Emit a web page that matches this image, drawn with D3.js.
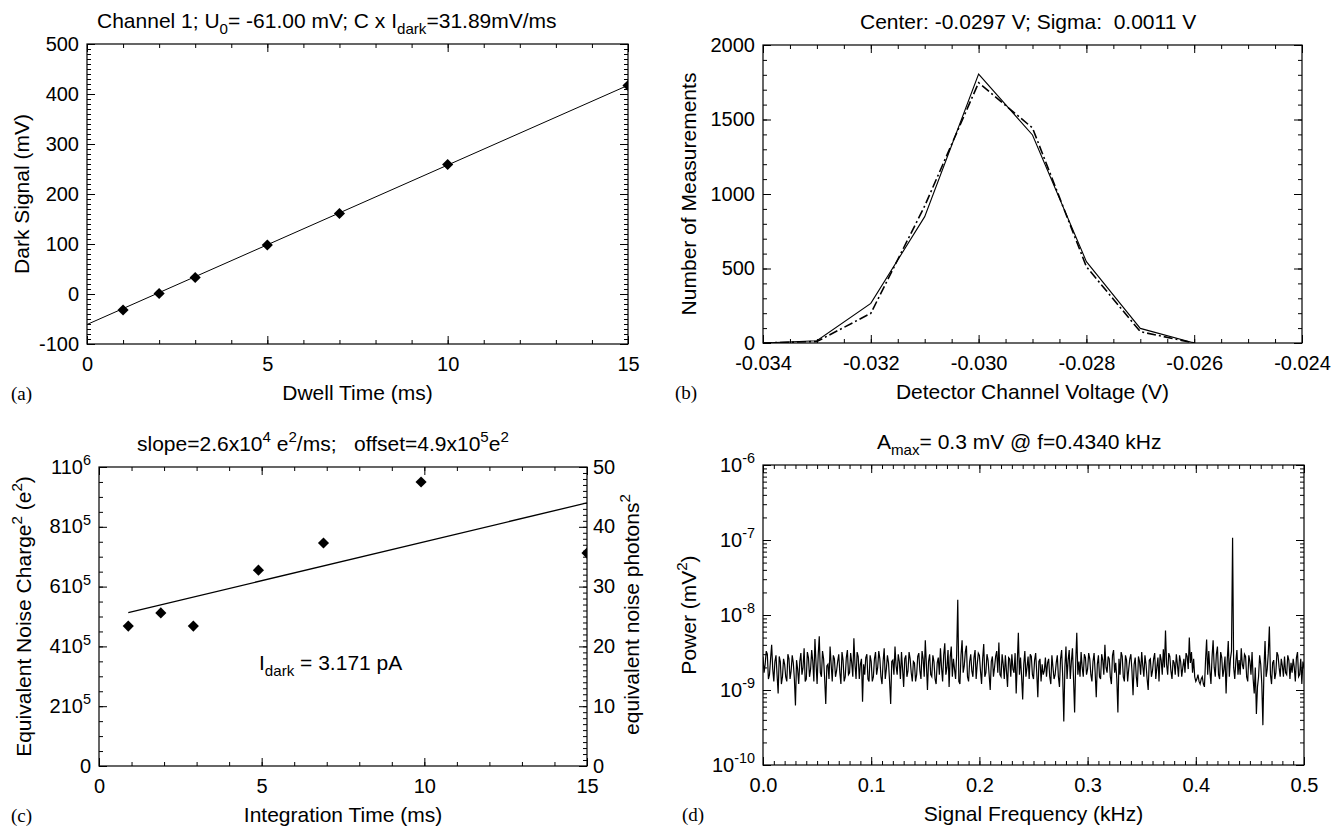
<!DOCTYPE html>
<html><head><meta charset="utf-8">
<script src="https://cdn.jsdelivr.net/npm/d3@7"></script>
<style>
body{margin:0;background:#fff;}
svg{display:block;background:#fff;}
text{font-family:"Liberation Sans",Arial,Helvetica,sans-serif;fill:#000;white-space:pre;}
.plabel{font-family:"Liberation Serif","Times New Roman",serif;}
</style></head><body>
<svg id="fig" width="1336" height="831"></svg>
<script>
// ---------------- DATA ----------------
// (a) dark signal vs dwell time
const dwellTime = [1, 2, 3, 5, 7, 10, 15];
const darkSignal = [-32, 1, 33, 98, 161, 259, 417];
const fitDwell = [0, 15];
const fitDark = [-61.0, 417.35];
const xTicksA = [0, 5, 10, 15];
const yTicksA = [-100, 0, 100, 200, 300, 400, 500];

// (b) histogram of detector channel voltage
const voltage = [-0.034, -0.033, -0.032, -0.031, -0.030, -0.029, -0.028, -0.027, -0.026];
const countsMeasured = [0, 15, 266, 848, 1805, 1396, 546, 98, 0];
const countsFit = [0, 10, 199, 920, 1747, 1443, 512, 76, 0];
const xTicksB = [-0.034, -0.032, -0.030, -0.028, -0.026, -0.024];
const yTicksB = [0, 500, 1000, 1500, 2000];

// (c) equivalent noise charge^2 vs integration time
const integTime = [0.9, 1.9, 2.9, 4.9, 6.9, 9.9, 15];
const noiseCharge2 = [4.68e5, 5.12e5, 4.68e5, 6.55e5, 7.46e5, 9.5e5, 7.12e5];
const fitInteg = [0.9, 15];
const fitCharge2 = [5.13e5, 8.80e5];
const xTicksC = [0, 5, 10, 15];
const yTicksC = [0, 2e5, 4e5, 6e5, 8e5, 1e6];
const yTicksCRight = [0, 10, 20, 30, 40, 50];

// (d) power spectrum; frequency bins of 0.001 kHz starting at 0
const freqStep = 0.001;
// power in units of 1e-9 mV^2
const powerE9 = [
 2.8,1.7,2.2,3.3,3.0,1.4,1.6,2.6,4.0,1.9,1.3,2.4,2.9,1.6,0.9,2.8,2.4,1.2,1.5,2.6,
 2.2,1.5,1.3,3.0,2.6,1.4,1.8,2.9,2.3,1.4,0.62,2.5,1.9,1.2,2.4,3.1,1.6,2.0,3.6,1.3,
 1.4,3.2,2.7,1.5,1.9,3.4,2.4,1.3,4.8,2.3,1.2,2.9,5.2,1.7,1.5,3.3,2.6,1.4,0.65,2.1,
 2.2,1.4,3.8,2.2,1.3,2.9,2.6,1.5,1.8,2.4,3.0,1.7,1.2,3.2,2.5,1.3,1.5,2.7,3.4,1.6,
 1.7,3.1,2.3,1.5,4.9,2.2,1.4,3.2,2.8,1.4,2.2,2.6,0.7,2.2,1.6,2.7,3.0,1.4,1.3,2.9,
 2.4,1.3,1.5,2.6,3.2,1.6,2.0,3.3,2.6,1.5,1.2,2.4,3.6,1.4,1.9,2.9,2.3,1.3,0.65,2.4,
 2.5,1.6,3.8,2.1,1.6,3.0,2.4,1.4,3.2,1.9,1.1,2.6,2.9,1.5,1.8,3.2,2.6,1.7,1.3,2.4,
 2.3,1.3,1.6,2.8,3.1,1.8,1.4,3.3,2.6,1.5,4.6,2.2,1.0,2.4,3.0,1.6,1.5,2.9,2.4,1.4,
 1.2,2.3,2.7,1.6,3.6,2.0,1.3,2.9,4.2,1.6,2.0,3.4,1.1,2.7,3.8,1.5,2.6,1.9,1.4,3.0,
 16,1.3,1.2,2.9,4.6,1.7,2.1,3.2,3.9,1.5,1.3,2.4,3.0,1.8,1.5,2.7,3.4,1.4,2.2,3.1,
 2.9,1.8,1.2,2.6,4.1,1.5,1.7,3.0,2.5,1.6,1.0,2.4,2.8,1.5,2.0,2.8,3.3,1.7,4.3,1.6,
 1.5,3.0,2.2,1.4,2.9,1.8,1.1,2.7,2.6,1.5,3.0,1.9,1.7,3.1,0.9,2.3,5.8,1.6,2.7,1.5,
 0.75,2.2,3.3,1.5,2.0,2.8,1.4,3.0,2.8,1.6,1.4,2.5,3.1,1.7,0.8,2.4,2.6,1.3,2.2,1.6,
 1.8,2.7,1.5,2.3,2.6,1.5,1.2,2.9,2.0,1.4,1.6,2.3,2.9,1.5,1.1,2.6,3.4,1.5,0.38,2.0,
 3.8,1.4,2.5,3.4,1.4,2.4,3.6,1.4,0.5,2.3,5.8,1.6,2.4,1.5,3.2,2.0,1.5,3.0,2.7,1.6,
 1.9,3.1,2.6,1.6,1.3,2.4,3.1,1.7,0.8,2.2,2.9,1.5,1.4,3.0,2.5,1.6,4.0,2.0,1.7,2.8,
 2.6,1.5,1.2,2.9,3.4,1.7,2.3,1.4,0.5,2.6,1.6,3.2,2.8,1.5,1.3,2.9,2.5,1.3,1.9,2.6,
 3.0,1.8,0.85,2.2,2.7,1.5,1.1,2.8,2.4,1.6,3.2,2.1,1.5,2.9,2.2,1.4,1.0,2.5,2.6,1.5,
 1.8,2.6,3.1,1.4,2.0,2.7,1.3,3.0,2.5,1.6,3.5,2.0,6.2,2.2,1.6,3.1,2.8,1.8,1.4,2.5,
 2.3,1.6,3.0,2.2,1.5,2.9,2.4,1.5,2.0,2.6,1.7,3.1,2.8,1.9,5.0,2.3,3.2,1.7,2.6,1.5,
 1.3,1.4,1.6,1.3,1.2,1.4,1.5,1.2,1.1,2.5,4.7,1.6,3.3,1.8,1.2,2.7,4.6,2.0,1.5,3.0,
 3.8,1.6,1.4,3.2,2.7,1.5,1.9,2.8,0.9,2.4,4.5,1.5,2.6,3.3,107,2.0,1.4,2.4,3.4,1.6,
 2.5,1.6,3.6,2.2,1.9,3.0,2.8,1.5,1.3,2.9,2.4,1.6,3.2,1.4,0.9,2.0,0.48,1.1,1.5,2.9,
 2.2,1.2,0.34,1.9,4.5,1.5,1.9,3.1,7.0,1.6,1.2,2.3,2.5,1.4,1.7,3.2,2.9,2.0,1.5,2.6,
 2.1,1.5,2.8,1.7,1.6,2.9,2.5,1.4,2.3,1.7,2.6,2.0,1.3,2.7,3.2,1.5,1.6,2.6,1.2,2.4,
 2.0
];
const xTicksD = [0, 0.1, 0.2, 0.3, 0.4, 0.5];
const yTicksD = [1e-10, 1e-9, 1e-8, 1e-7, 1e-6];

// ---------------- DRAWING ----------------
const svg = d3.select("#fig");
const FS = 20, FS_T = 21, FS_H = 21, SUB = 0.72;

function rich(sel, str, fs) {
  sel.text(null);
  const re = /([_^])\{([^}]*)\}/g;
  let last = 0, m; const parts = [];
  while ((m = re.exec(str))) {
    if (m.index > last) parts.push({t: str.slice(last, m.index), k: ""});
    parts.push({t: m[2], k: m[1]}); last = re.lastIndex;
  }
  if (last < str.length) parts.push({t: str.slice(last), k: ""});
  let cur = 0;
  parts.forEach(p => {
    const target = p.k === "^" ? -0.42 * fs : p.k === "_" ? 0.28 * fs : 0;
    const ts = sel.append("tspan").text(p.t);
    if (target - cur !== 0) ts.attr("dy", target - cur);
    if (p.k) ts.attr("font-size", fs * SUB);
    cur = target;
  });
}

function addAxis(g, gen, transform, values, len, fmt, pad) {
  const a = g.append("g").attr("transform", transform)
    .call(gen.tickValues(values).tickSize(-len).tickPadding(pad || 8).tickFormat(() => ""));
  a.select(".domain").remove();
  a.attr("font-size", null).attr("font-family", null);
  a.selectAll("line").attr("stroke", "#000").attr("stroke-width", 1);
  if (fmt) {
    a.selectAll(".tick text").each(function(d) {
      const t = d3.select(this).attr("font-size", FS);
      if (t.attr("dy") === "0.32em") t.attr("dy", "0.3em");
      rich(t, fmt(d), FS);
    });
  } else {
    a.selectAll(".tick text").remove();
  }
  return a;
}

function rng(a, b, s) { const out = []; for (let v = a; v <= b + s * 1e-6; v += s) out.push(+v.toFixed(10)); return out; }

function panel(o) {
  const g = svg.append("g");
  const [x0, x1] = o.x.range(), [y0, y1] = o.y.range();
  const clipId = "clip" + o.name;
  svg.append("clipPath").attr("id", clipId).append("rect")
    .attr("x", x0).attr("y", y1).attr("width", x1 - x0).attr("height", y0 - y1);
  addAxis(g, d3.axisBottom(o.x), `translate(0,${y0})`, o.xMajor, 8, o.xFmt, 13);
  addAxis(g, d3.axisBottom(o.x), `translate(0,${y0})`, o.xMinor, 4, null);
  addAxis(g, d3.axisTop(o.x), `translate(0,${y1})`, o.xMajor, 8, null);
  addAxis(g, d3.axisTop(o.x), `translate(0,${y1})`, o.xMinor, 4, null);
  addAxis(g, d3.axisLeft(o.y), `translate(${x0},0)`, o.yMajor, 8, o.yFmt, 8);
  addAxis(g, d3.axisLeft(o.y), `translate(${x0},0)`, o.yMinor, 4, null);
  const yr = o.yR || o.y;
  addAxis(g, d3.axisRight(yr), `translate(${x1},0)`, o.yRMajor || o.yMajor, 8, o.yRFmt, 6);
  addAxis(g, d3.axisRight(yr), `translate(${x1},0)`, o.yRMinor || o.yMinor, 4, null);
  g.append("rect").attr("x", x0).attr("y", y1).attr("width", x1 - x0).attr("height", y0 - y1)
    .attr("fill", "none").attr("stroke", "#000").attr("stroke-width", 1.2);
  const cx = (x0 + x1) / 2;
  rich(g.append("text").attr("x", o.titleX).attr("y", y1 - 16).attr("font-size", FS_H), o.title, FS_H);
  rich(g.append("text").attr("x", cx).attr("y", y0 + 56).attr("text-anchor", "middle").attr("font-size", FS_T), o.xTitle, FS_T);
  rich(g.append("text").attr("transform", `translate(${o.yTitleX},${(y0 + y1) / 2}) rotate(-90)`)
    .attr("text-anchor", "middle").attr("font-size", FS_T), o.yTitle, FS_T);
  if (o.yRTitle) rich(g.append("text").attr("transform", `translate(${o.yRTitleX},${(y0 + y1) / 2 - 2}) rotate(-90)`)
    .attr("text-anchor", "middle").attr("font-size", FS_T), o.yRTitle, FS_T);
  g.append("text").attr("class", "plabel").attr("x", o.labelX).attr("y", y0 + 56)
    .attr("font-size", 19).text(o.label);
  return g.append("g").attr("clip-path", `url(#${clipId})`);
}

const diamond = d3.symbol(d3.symbolSquare, 62);

// ---- (a)
{
  const x = d3.scaleLinear([0, 15], [87, 628]);
  const y = d3.scaleLinear([-100, 500], [344, 44]);
  const plot = panel({name: "a", x, y, xMajor: xTicksA, xMinor: rng(0, 15, 1),
    yMajor: yTicksA, yMinor: rng(-100, 500, 10), xFmt: d => String(d), yFmt: d => String(d),
    title: "Channel 1; U_{0}= -61.00 mV; C x I_{dark}=31.89mV/ms", titleX: 97, xTitle: "Dwell Time (ms)",
    yTitle: "Dark Signal (mV)", yTitleX: 29, label: "(a)", labelX: 11});
  plot.append("path").datum(d3.zip(fitDwell, fitDark))
    .attr("d", d3.line().x(d => x(d[0])).y(d => y(d[1])))
    .attr("fill", "none").attr("stroke", "#000").attr("stroke-width", 1);
  plot.selectAll(".pt").data(d3.zip(dwellTime, darkSignal)).join("path")
    .attr("d", diamond).attr("transform", d => `translate(${x(d[0])},${y(d[1])}) rotate(45)`)
    .attr("fill", "#000");
}

// ---- (b)
{
  const x = d3.scaleLinear([-0.034, -0.024], [763, 1302]);
  const y = d3.scaleLinear([0, 2000], [343, 45]);
  const plot = panel({name: "b", x, y, xMajor: xTicksB, xMinor: rng(-0.034, -0.024, 0.0005),
    yMajor: yTicksB, yMinor: rng(0, 2000, 100), xFmt: d => d3.format(".3f")(d).replace("−", "-"),
    yFmt: d => String(d),
    title: "Center: -0.0297 V; Sigma:  0.0011 V", titleX: 860, xTitle: "Detector Channel Voltage (V)",
    yTitle: "Number of Measurements", yTitleX: 696, label: "(b)", labelX: 675});
  const ln = d3.line().x(d => x(d[0])).y(d => y(d[1]));
  plot.append("path").datum(d3.zip(voltage, countsFit)).attr("d", ln)
    .attr("fill", "none").attr("stroke", "#000").attr("stroke-width", 1.6)
    .attr("stroke-dasharray", "9,3,2,3");
  plot.append("path").datum(d3.zip(voltage, countsMeasured)).attr("d", ln)
    .attr("fill", "none").attr("stroke", "#000").attr("stroke-width", 1.1);
}

// ---- (c)
{
  const x = d3.scaleLinear([0, 15], [99, 587]);
  const y = d3.scaleLinear([0, 1e6], [766, 467]);
  const yR = d3.scaleLinear([0, 50], [766, 467]);
  const fmtC = d => d === 0 ? "0" : (d >= 1e6 ? (d / 1e6) + "10^{6}" : (d / 1e5) + "10^{5}");
  const plot = panel({name: "c", x, y, yR, xMajor: xTicksC, xMinor: rng(0, 15, 1),
    yMajor: yTicksC, yMinor: rng(0, 1e6, 5e4), yRMajor: yTicksCRight, yRMinor: rng(0, 50, 1),
    xFmt: d => String(d), yFmt: fmtC, yRFmt: d => String(d),
    title: "slope=2.6x10^{4} e^{2}/ms;   offset=4.9x10^{5}e^{2}", titleX: 137, xTitle: "Integration Time (ms)",
    yTitle: "Equivalent Noise Charge^{2} (e^{2})", yTitleX: 31,
    yRTitle: "equivalent noise photons^{2}", yRTitleX: 639, label: "(c)", labelX: 11});
  plot.append("path").datum(d3.zip(fitInteg, fitCharge2))
    .attr("d", d3.line().x(d => x(d[0])).y(d => y(d[1])))
    .attr("fill", "none").attr("stroke", "#000").attr("stroke-width", 1.3);
  plot.selectAll(".pt").data(d3.zip(integTime, noiseCharge2)).join("path")
    .attr("d", diamond).attr("transform", d => `translate(${x(d[0])},${y(d[1])}) rotate(45)`)
    .attr("fill", "#000");
  rich(svg.append("text").attr("x", 259).attr("y", 670).attr("font-size", 21), "I_{dark} = 3.171 pA", 21);
}

// ---- (d)
{
  const x = d3.scaleLinear([0, 0.5], [763, 1304]);
  const y = d3.scaleLog([1e-10, 1e-6], [765, 465]);
  const minorD = [];
  [-10, -9, -8, -7].forEach(e => { for (let m = 2; m <= 9; m++) minorD.push(m * Math.pow(10, e)); });
  const plot = panel({name: "d", x, y, xMajor: xTicksD, xMinor: rng(0, 0.5, 0.01),
    yMajor: yTicksD, yMinor: minorD, xFmt: d => d3.format(".1f")(d),
    yFmt: d => "10^{" + Math.round(Math.log10(d)) + "}",
    title: "A_{max}= 0.3 mV @ f=0.4340 kHz", titleX: 877, xTitle: "Signal Frequency (kHz)",
    yTitle: "Power (mV^{2})", yTitleX: 696, label: "(d)", labelX: 682});
  plot.append("path").datum(powerE9)
    .attr("d", d3.line().x((d, i) => x(i * freqStep)).y(d => y(d * 1e-9)))
    .attr("fill", "none").attr("stroke", "#000").attr("stroke-width", 1.2);
}
</script></body></html>
